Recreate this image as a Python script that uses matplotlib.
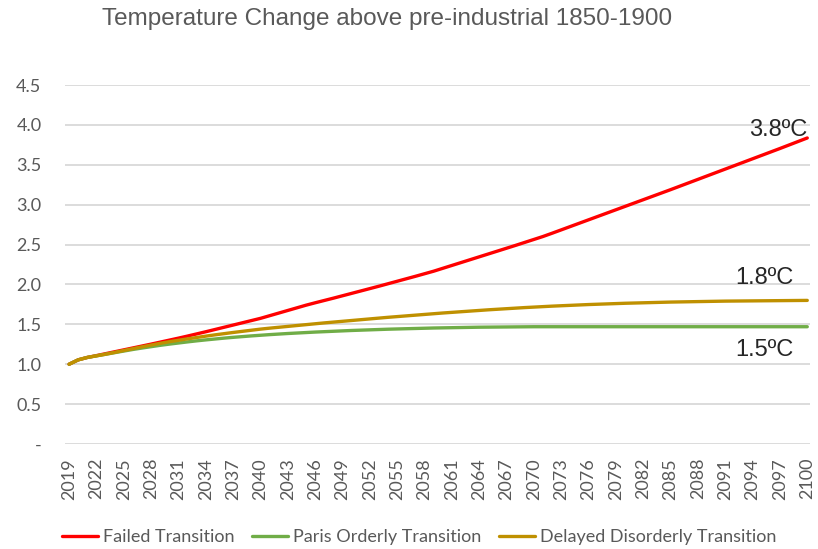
import matplotlib
matplotlib.use('Agg')
import matplotlib.pyplot as plt

years = list(range(2019, 2101))

failed = [
    1.000,
    1.055, 1.085, 1.108, 1.132, 1.156, 1.180, 1.204, 1.228, 1.252, 1.277,
    1.302, 1.327, 1.353, 1.380, 1.407, 1.435, 1.463, 1.491, 1.519, 1.547,
    1.575, 1.608, 1.641, 1.674, 1.707, 1.740, 1.770, 1.799, 1.828, 1.858,
    1.888, 1.918, 1.948, 1.978, 2.009, 2.040, 2.071, 2.102, 2.134, 2.166,
    2.202, 2.238, 2.274, 2.310, 2.346, 2.382, 2.418, 2.454, 2.490, 2.527,
    2.564, 2.601, 2.642, 2.684, 2.726, 2.768, 2.810, 2.852, 2.894, 2.936,
    2.978, 3.020, 3.062, 3.104, 3.146, 3.188, 3.231, 3.274, 3.317, 3.360,
    3.403, 3.446, 3.489, 3.532, 3.575, 3.618, 3.661, 3.704, 3.748, 3.792,
    3.836,
]

paris = [
    1.000,
    1.055, 1.085, 1.105, 1.125, 1.145, 1.165, 1.185, 1.203, 1.220, 1.237,
    1.252, 1.266, 1.280, 1.293, 1.305, 1.316, 1.327, 1.337, 1.346, 1.355,
    1.363, 1.371, 1.378, 1.385, 1.391, 1.397, 1.403, 1.408, 1.413, 1.418,
    1.423, 1.427, 1.431, 1.435, 1.439, 1.442, 1.445, 1.448, 1.451, 1.454,
    1.456, 1.458, 1.460, 1.462, 1.464, 1.465, 1.466, 1.467, 1.468, 1.469,
    1.470, 1.470, 1.470, 1.470, 1.470, 1.470, 1.470, 1.470, 1.470, 1.470,
    1.470, 1.470, 1.470, 1.470, 1.470, 1.470, 1.470, 1.470, 1.470, 1.470,
    1.470, 1.470, 1.470, 1.470, 1.470, 1.470, 1.470, 1.470, 1.470, 1.470,
    1.470,
]

delayed = [
    1.000,
    1.055, 1.085, 1.105, 1.125, 1.148, 1.172, 1.195, 1.218, 1.240, 1.262,
    1.282, 1.300, 1.318, 1.335, 1.352, 1.368, 1.383, 1.398, 1.412, 1.426,
    1.440, 1.452, 1.463, 1.474, 1.485, 1.496, 1.507, 1.518, 1.528, 1.538,
    1.548, 1.558, 1.568, 1.578, 1.588, 1.597, 1.606, 1.615, 1.624, 1.633,
    1.642, 1.650, 1.658, 1.666, 1.674, 1.682, 1.689, 1.696, 1.703, 1.710,
    1.716, 1.722, 1.728, 1.733, 1.738, 1.743, 1.748, 1.752, 1.756, 1.760,
    1.764, 1.767, 1.770, 1.773, 1.776, 1.779, 1.781, 1.783, 1.785, 1.787,
    1.789, 1.791, 1.792, 1.793, 1.794, 1.795, 1.796, 1.797, 1.798, 1.799,
    1.800,
]

series_names = ['Failed Transition', 'Paris Orderly Transition', 'Delayed Disorderly Transition']
end_labels = ['3.8ºC', '1.8ºC', '1.5ºC']
yticks = [0, 0.5, 1.0, 1.5, 2.0, 2.5, 3.0, 3.5, 4.0, 4.5]
ytick_labels = ['-', '0.5', '1.0', '1.5', '2.0', '2.5', '3.0', '3.5', '4.0', '4.5']
xtick_years = years[::3]

grey = '#595959'
colors = ['#FF0000', '#70AD47', '#BF9000']

fig = plt.figure(figsize=(8.18, 5.49), dpi=100)
ax = fig.add_axes([65/818, 1 - 444/549, 745/818, 359/549])

for name, vals, c in zip(series_names, [failed, paris, delayed], colors):
    ax.plot(years, vals, color=c, lw=2.4, label=name, solid_capstyle='round')

ax.set_ylim(0, 4.5)
ax.set_xlim(2018.55, 2100.3)
ax.set_yticks(yticks)
ax.set_yticklabels(ytick_labels)
ax.set_xticks(xtick_years)
ax.set_xticklabels([str(y) for y in xtick_years], rotation=90)
ax.tick_params(axis='both', length=0, labelsize=13, labelcolor=grey)
ax.tick_params(axis='y', pad=17)
ax.tick_params(axis='x', pad=10)
for lab in ax.get_xticklabels() + ax.get_yticklabels():
    lab.set_family('Lato')

ax.grid(axis='y', color='#D9D9D9', lw=1.3)
ax.set_axisbelow(True)
for s in ax.spines.values():
    s.set_visible(False)

# end labels
ax.text(2100, 3.80, end_labels[0], ha='right', va='bottom', fontsize=17,
        family='Liberation Sans', color='#262626')
ax.text(2098.5, 1.94, end_labels[1], ha='right', va='bottom', fontsize=17,
        family='Liberation Sans', color='#262626')
ax.text(2098.5, 1.04, end_labels[2], ha='right', va='bottom', fontsize=17,
        family='Liberation Sans', color='#262626')

fig.text(102/818, 1 - 19/549, 'Temperature Change above pre-industrial 1850-1900',
         ha='left', va='center', fontsize=17.5, color=grey, family='Liberation Sans')

leg = fig.legend(loc='center', bbox_to_anchor=(419/818, 1 - 537/549), ncol=3, frameon=False,
                 prop={'family': 'Lato', 'size': 13}, handlelength=2.0,
                 handletextpad=0.25, columnspacing=1.0)
for t in leg.get_texts():
    t.set_color(grey)

fig.savefig('out.png', dpi=100)
